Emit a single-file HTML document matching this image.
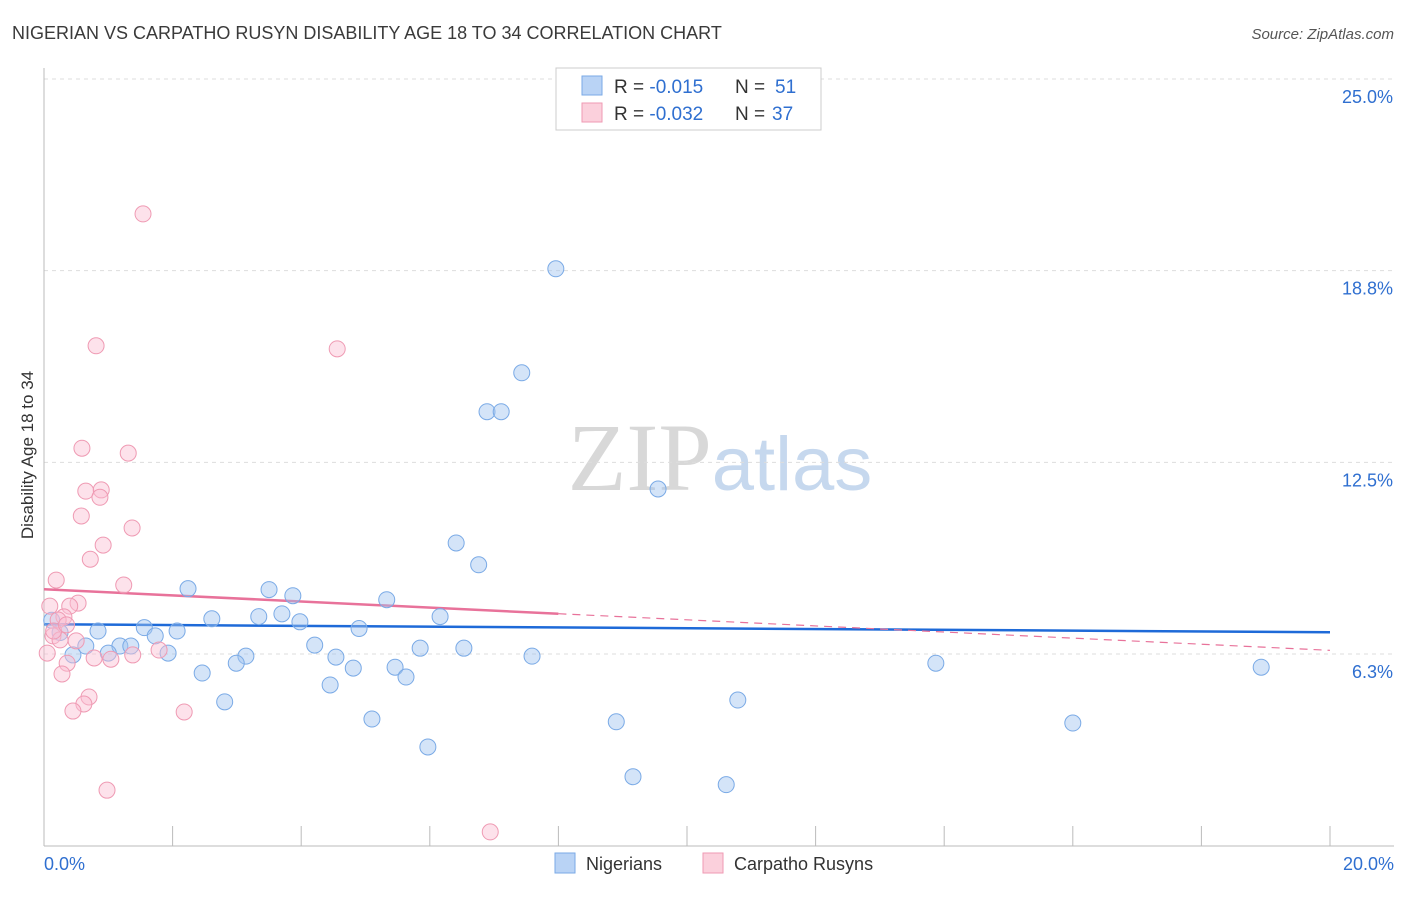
<!DOCTYPE html>
<html><head><meta charset="utf-8">
<style>
body{margin:0;background:#fff;font-family:"Liberation Sans",sans-serif;}
svg text{font-family:"Liberation Sans",sans-serif;}
</style></head>
<body>
<svg id="chart" width="1406" height="892" xmlns="http://www.w3.org/2000/svg">
<text x="12" y="39" font-size="18" fill="#3a3a3a">NIGERIAN VS CARPATHO RUSYN DISABILITY AGE 18 TO 34 CORRELATION CHART</text>
<text x="1394" y="39" font-size="15" fill="#555" text-anchor="end" font-style="italic">Source: ZipAtlas.com</text>
<text x="720" y="490" font-size="96" text-anchor="middle"><tspan fill="#d8d8d8" font-family="Liberation Serif">ZIP</tspan><tspan fill="#c6d8ee" font-size="76">atlas</tspan></text>
<g id="grid"></g>
<g id="axes"></g>
<g id="trend"></g>
<g id="points"></g>
<text transform="translate(33,455) rotate(-90)" font-size="17" fill="#333" text-anchor="middle">Disability Age 18 to 34</text>
<g>
<rect x="556" y="68" width="265" height="62" fill="#fff" stroke="#ccc"/>
<rect x="582" y="76" width="20" height="19" fill="#b9d3f5" stroke="#7aaae6"/>
<text x="614" y="93" font-size="19" fill="#333">R = <tspan fill="#2f6fd0">-0.015</tspan></text>
<text x="735" y="93" font-size="19" fill="#333">N = </text>
<text x="775" y="93" font-size="19" fill="#2f6fd0">51</text>
<rect x="582" y="103" width="20" height="19" fill="#fbd0dc" stroke="#ef9ab3"/>
<text x="614" y="120" font-size="19" fill="#333">R = <tspan fill="#2f6fd0">-0.032</tspan></text>
<text x="735" y="120" font-size="19" fill="#333">N = </text>
<text x="772" y="120" font-size="19" fill="#2f6fd0">37</text>
</g>
<g>
<rect x="555" y="853" width="20" height="20" fill="#b9d3f5" stroke="#7aaae6"/>
<text x="586" y="870" font-size="18" fill="#333">Nigerians</text>
<rect x="703" y="853" width="20" height="20" fill="#fbd0dc" stroke="#ef9ab3"/>
<text x="734" y="870" font-size="18" fill="#333">Carpatho Rusyns</text>
</g>
</svg>
<script>
const blueX=[7.96,7.43,6.89,7.11,9.55,6.41,6.76,2.24,3.50,3.87,5.33,2.61,3.34,3.70,3.98,6.16,4.90,1.56,2.07,0.84,1.73,1.18,1.35,0.65,1.00,1.93,0.45,4.21,5.85,6.53,7.59,3.14,4.54,2.99,4.81,5.46,5.63,2.46,13.87,18.93,4.45,2.81,10.79,5.10,8.90,16.00,5.97,9.16,10.61,0.12,0.25];
const blueY=[18.81,15.42,14.15,14.15,11.63,9.87,9.16,8.38,8.35,8.15,8.02,7.40,7.47,7.56,7.30,7.47,7.08,7.11,7.00,7.00,6.84,6.51,6.51,6.51,6.28,6.28,6.22,6.54,6.44,6.44,6.18,6.18,6.15,5.95,5.79,5.82,5.50,5.63,5.95,5.82,5.24,4.69,4.75,4.13,4.04,4.00,3.22,2.25,1.99,7.35,6.95];
const pinkX=[1.54,0.81,4.56,0.59,1.31,0.65,0.89,0.87,0.58,1.37,0.92,0.72,0.19,1.24,0.53,0.40,0.09,0.31,0.22,0.14,0.25,0.50,0.05,1.79,1.38,0.78,1.04,0.36,0.28,0.70,0.62,0.45,2.18,0.98,6.94,0.15,0.35];
const pinkY=[20.6,16.3,16.2,12.96,12.8,11.56,11.6,11.36,10.75,10.36,9.8,9.34,8.66,8.5,7.91,7.81,7.81,7.46,7.36,6.84,6.71,6.68,6.28,6.38,6.22,6.12,6.08,5.95,5.6,4.85,4.62,4.39,4.36,1.81,0.45,7.0,7.2];
const blueTrend=[7.22,6.96];
const pinkTrend=[8.36,6.37];
const pinkSolidEnd=8.0;
const yTicks=[25.0,18.8,12.5,6.3];
const yTickVals=[25,18.75,12.5,6.25];
const xTicks=[0,2,4,6,8,10,12,14,16,18,20];

const NS="http://www.w3.org/2000/svg";
const X=v=>44+v/20*1286;
const Y=v=>845.7-v*30.67;
function mk(tag,attrs,parent){const e=document.createElementNS(NS,tag);for(const k in attrs)e.setAttribute(k,attrs[k]);parent.appendChild(e);return e;}
const grid=document.getElementById('grid'),axes=document.getElementById('axes'),trend=document.getElementById('trend'),pts=document.getElementById('points');
yTickVals.forEach((v,i)=>{
  const l=mk('line',{x1:44,x2:1394,y1:Y(v),y2:Y(v),stroke:'#ddd','stroke-dasharray':'4,4'},grid);
  
  
  const t=mk('text',{x:1393,y:Y(v)+24,'font-size':18,fill:'#2f6fd0','text-anchor':'end'},axes);
  t.textContent=yTicks[i].toFixed(1)+'%';
  
  
});
const ax=mk('line',{x1:44,x2:44,y1:68,y2:846,stroke:'#bbb'},axes);


const bx=mk('line',{x1:44,x2:1394,y1:846,y2:846,stroke:'#bbb'},axes);


xTicks.forEach(v=>{
  const t=mk('line',{x1:X(v),x2:X(v),y1:826,y2:846,stroke:'#bbb'},axes);
  
  
});
const x0=mk('text',{x:44,y:870,'font-size':18,fill:'#2f6fd0'},axes);x0.textContent=xTicks[0].toFixed(1)+'%';


const x1=mk('text',{x:1394,y:870,'font-size':18,fill:'#2f6fd0','text-anchor':'end'},axes);x1.textContent=xTicks[xTicks.length-1].toFixed(1)+'%';


blueX.forEach((x,i)=>{
  const c=mk('circle',{cx:X(x),cy:Y(blueY[i]),r:8,fill:'rgba(160,195,240,0.45)',stroke:'#7aaae6','stroke-width':1},pts);
  
  
});
pinkX.forEach((x,i)=>{
  const c=mk('circle',{cx:X(x),cy:Y(pinkY[i]),r:8,fill:'rgba(250,190,210,0.45)',stroke:'#ef9ab3','stroke-width':1},pts);
  
  
});
const pv=x=>pinkTrend[0]+(pinkTrend[1]-pinkTrend[0])*x/20;
const bt=mk('line',{x1:X(0),y1:Y(blueTrend[0]),x2:X(20),y2:Y(blueTrend[1]),stroke:'#1e6ad8','stroke-width':2.5},trend);


const ps=mk('line',{x1:X(0),y1:Y(pv(0)),x2:X(pinkSolidEnd),y2:Y(pv(pinkSolidEnd)),stroke:'#e8729a','stroke-width':2.5},trend);


const pd=mk('line',{x1:X(pinkSolidEnd),y1:Y(pv(pinkSolidEnd)),x2:X(20),y2:Y(pv(20)),stroke:'#e8729a','stroke-width':1.2,'stroke-dasharray':'8,6'},trend);


</script>
</body></html>
